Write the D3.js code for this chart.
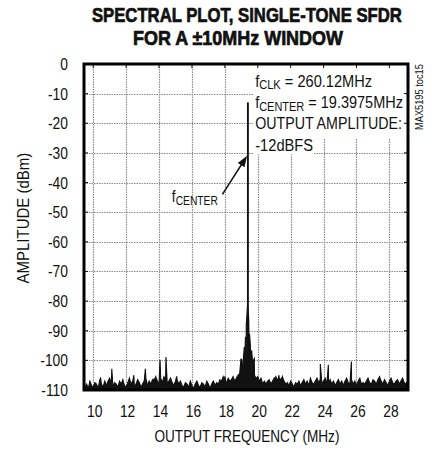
<!DOCTYPE html>
<html><head><meta charset="utf-8">
<script src="https://cdn.jsdelivr.net/npm/d3@7"></script>
<style>
body{margin:0;background:#fff;}
text{font-family:"Liberation Sans",Arial,sans-serif;fill:#111;}
</style></head>
<body><svg id="c" width="434" height="454"></svg>
<script>
// ---- data ----
const titleLines = ["SPECTRAL PLOT, SINGLE-TONE SFDR", "FOR A \u00B110MHz WINDOW"];
const xTicks = [10, 12, 14, 16, 18, 20, 22, 24, 26, 28];
const yTicks = [0, -10, -20, -30, -40, -50, -60, -70, -80, -90, -100, -110];
const xDomain = [9.44, 29.13];
const yDomain = [-110, 0];
const floorStart = 9.5, floorStep = 0.1;
const floorValues = [
 -109,-108,-109.5,-107,-108.5,-109,-107.5,-108,-109.5,-106.5,
 -108,-109,-107,-108.5,-107,-106,-108,-109,-107.5,-108,
 -109,-107,-108,-106.5,-108.5,-109,-107.5,-106,-108,-107,
 -109,-108,-106.5,-107.5,-109,-108,-107,-106,-108.5,-107,
 -108,-106.5,-107,-105.5,-107,-108,-106,-107.5,-105.5,-106.5,
 -108,-107,-106,-107.5,-108.5,-107,-106.5,-108,-107,-108.5,
 -109,-107.5,-108,-109,-107,-108.5,-109.5,-108,-107,-108.5,
 -109,-107.5,-108,-109,-107,-108,-109.5,-108,-107,-108.5,
 -107.5,-108,-106.5,-107,-105.5,-107,-108,-106,-107,-106.5,
 -105.5,-107,-106,-105,-104.5,-103,-104,-102,-101,-104,
 -103,-104.5,-102,-105,-106,-105.5,-107,-106,-108,-107,
 -108,-107,-106.5,-108,-107,-106,-105.5,-107,-106,-106.5,
 -105.5,-107,-108,-107.5,-108.5,-107,-108,-109,-107.5,-108,
 -107,-108.5,-107.5,-106.5,-108,-107,-108.5,-106,-107.5,-108,
 -107,-106,-107.5,-106.5,-108,-107,-106,-108,-107.5,-106.5,
 -108,-107,-108.5,-107.5,-106.5,-108,-107,-108.5,-107,-106,
 -107.5,-108,-106.5,-108,-107,-108.5,-107,-106,-108,-107.5,
 -108,-107,-106,-107.5,-108,-106.5,-107,-108,-106.5,-105.5,
 -107,-108,-106.5,-107.5,-108.5,-107,-106,-107.5,-108,-107,
 -106.5,-108,-107,-106,-107.5,-108,-107
];
const spurFreq = [10.45,10.97,11.13,12.47,13.17,13.69,14.06,14.42,15.07,18.0,18.98,19.02,19.12,19.18,19.25,19.3,19.35,19.45,19.5,19.55,19.63,19.73,19.79,21.09,21.29,21.5,23.8,24.29,25.69,27.43];
const spurDb   = [-106,-106.3,-102.8,-105,-102.8,-106.3,-99.8,-98.9,-105.4,-105.4,-99.4,-99.6,-100,-95.5,-92,-88,-84,-86,-91,-95,-96.6,-100,-99.4,-105.6,-105,-105.6,-101.2,-101.5,-100.4,-106];
const peakFreq = 19.3975, peakDb = -13;
const noteLines = [["f","CLK"," = 260.12MHz"],["f","CENTER"," = 19.3975MHz"],["OUTPUT AMPLITUDE:","",""],["-12dBFS","",""]];
const arrowLabel = ["f","CENTER"];
const xTitle = "OUTPUT FREQUENCY (MHz)";
const yTitle = "AMPLITUDE (dBm)";
const sideNote = "MAX5195 toc15";

// ---- layout ----
const L = 84, R = 408, T = 64, B = 390;
const svg = d3.select("#c");
const x = d3.scaleLinear().domain(xDomain).range([L, R]);
const y = d3.scaleLinear().domain(yDomain).range([B, T]);
// condense a text (placed at 0,0, start-anchored) to a target width
function fitW(t, w, tx, ty, rot){
  const n = t.node().getComputedTextLength();
  t.attr("transform", `translate(${tx},${ty})` + (rot ? ` rotate(${rot})` : "") + ` scale(${w/n},1)`);
  return t;
}

// title
const titleW = [310, 210], titleCx = [247, 238];
titleLines.forEach((s,i)=>{
  const t = svg.append("text").attr("font-size",20).attr("font-weight","bold")
    .attr("stroke","#111").attr("stroke-width",0.7).text(s);
  fitW(t, titleW[i], titleCx[i]-titleW[i]/2, 21.5+i*23.5);
});

// grid
const grid = svg.append("g").attr("stroke","#8a8a8a").attr("stroke-width",1.2).attr("stroke-dasharray","1.5,1");
grid.selectAll("line.gx").data(xTicks).join("line")
  .attr("x1",d=>Math.round(x(d))+0.5).attr("x2",d=>Math.round(x(d))+0.5).attr("y1",T).attr("y2",B);
grid.selectAll("line.gy").data(yTicks.slice(1,-1)).join("line")
  .attr("y1",d=>Math.round(y(d))+0.5).attr("y2",d=>Math.round(y(d))+0.5).attr("x1",L).attr("x2",R);

// spectrum
const pts = floorValues.map((v,i)=>[floorStart + i*floorStep, v]);
spurFreq.forEach((f,i)=>pts.push([f, spurDb[i]]));
pts.push([peakFreq-0.004, -80],[peakFreq, peakDb],[peakFreq+0.004,-82]);
pts.sort((a,b)=>a[0]-b[0]);
svg.append("clipPath").attr("id","cp").append("rect").attr("x",L).attr("y",T).attr("width",R-L).attr("height",B-T);
const gS = svg.append("g").attr("clip-path","url(#cp)");
const area = d3.area().x(d=>x(d[0])).y0(y(-111)).y1(d=>y(d[1]));
gS.append("path").datum(pts).attr("d",area).attr("fill","#111");
gS.append("path").datum(pts).attr("d",d3.line().x(d=>x(d[0])).y(d=>y(d[1])))
  .attr("fill","none").attr("stroke","#111").attr("stroke-width",1.1);
gS.append("line").attr("x1",x(peakFreq)).attr("x2",x(peakFreq)).attr("y1",y(peakDb)).attr("y2",y(-95))
  .attr("stroke","#111").attr("stroke-width",1.8);

// annotation box
const bx = x(19.72);
svg.append("rect").attr("x",bx).attr("y",T+1).attr("width",x(29.05)-bx).attr("height",y(-25)-T-1).attr("fill","#fff");
svg.append("rect").attr("x",bx).attr("y",T+1).attr("width",x(23.4)-bx).attr("height",y(-30.5)-T-1).attr("fill","#fff");
const noteW = [117, 148, 147, 58];
noteLines.forEach((ln,i)=>{
  const t = svg.append("text").attr("font-size",16.5);
  t.append("tspan").text(ln[0]);
  if(ln[1]){
    t.append("tspan").attr("font-size",12.5).attr("dy",2.5).text(ln[1]);
    t.append("tspan").attr("dy",-2.5).text(ln[2]);
  }
  fitW(t, noteW[i], bx+2, y(-7.7)+i*21.3);
});

// arrow label
const al = svg.append("text").attr("font-size",16.5);
al.append("tspan").text(arrowLabel[0]);
al.append("tspan").attr("font-size",12.5).attr("dy",2.5).text(arrowLabel[1]);
fitW(al, 46, x(14.78), y(-46.6));
const ax1 = x(17.85), ay1 = y(-44), ax2 = x(19.35), ay2 = y(-31);
const ang = Math.atan2(ay2-ay1, ax2-ax1);
svg.append("line").attr("x1",ax1).attr("y1",ay1).attr("x2",ax2-8*Math.cos(ang)).attr("y2",ay2-8*Math.sin(ang))
  .attr("stroke","#111").attr("stroke-width",1.6);
const ah = 11, aw = 4;
const bxh = ax2-ah*Math.cos(ang), byh = ay2-ah*Math.sin(ang);
svg.append("path").attr("d",`M${ax2},${ay2}L${bxh+aw*Math.sin(ang)},${byh-aw*Math.cos(ang)}L${bxh-aw*Math.sin(ang)},${byh+aw*Math.cos(ang)}Z`).attr("fill","#111");

// frame ticks
const tk = svg.append("g").attr("stroke","#111").attr("stroke-width",1);
tk.selectAll("line.tt").data(xTicks).join("line").attr("x1",d=>x(d)).attr("x2",d=>x(d)).attr("y1",T).attr("y2",T+4);
tk.selectAll("line.tb").data(xTicks).join("line").attr("x1",d=>x(d)).attr("x2",d=>x(d)).attr("y1",B).attr("y2",B-4);
tk.selectAll("line.tl").data(yTicks).join("line").attr("y1",d=>y(d)).attr("y2",d=>y(d)).attr("x1",L).attr("x2",L+4);
tk.selectAll("line.tr").data(yTicks).join("line").attr("y1",d=>y(d)).attr("y2",d=>y(d)).attr("x1",R).attr("x2",R-4);

// frame
svg.append("rect").attr("x",L).attr("y",T).attr("width",R-L).attr("height",B-T)
  .attr("fill","none").attr("stroke","#000").attr("stroke-width",3);

// axes labels (condensed)
svg.selectAll("text.xt").data(xTicks).join("text").attr("class","xt")
  .attr("transform",d=>`translate(${x(d)+1.5},${B+27}) scale(0.84,1)`)
  .attr("text-anchor","middle").attr("font-size",16.5).text(d=>d);
svg.selectAll("text.yt").data(yTicks).join("text").attr("class","yt")
  .attr("transform",d=>`translate(${L-16},${y(d)+6}) scale(0.84,1)`)
  .attr("text-anchor","end").attr("font-size",16.5).text(d=>d);
fitW(svg.append("text").attr("font-size",17).text(xTitle), 185, 247-92.5, 442);
fitW(svg.append("text").attr("font-size",17).text(yTitle), 131, 29, 218+65.5, -90);
fitW(svg.append("text").attr("font-size",10.5).text(sideNote), 66, 423, 130, -90);
</script></body></html>
